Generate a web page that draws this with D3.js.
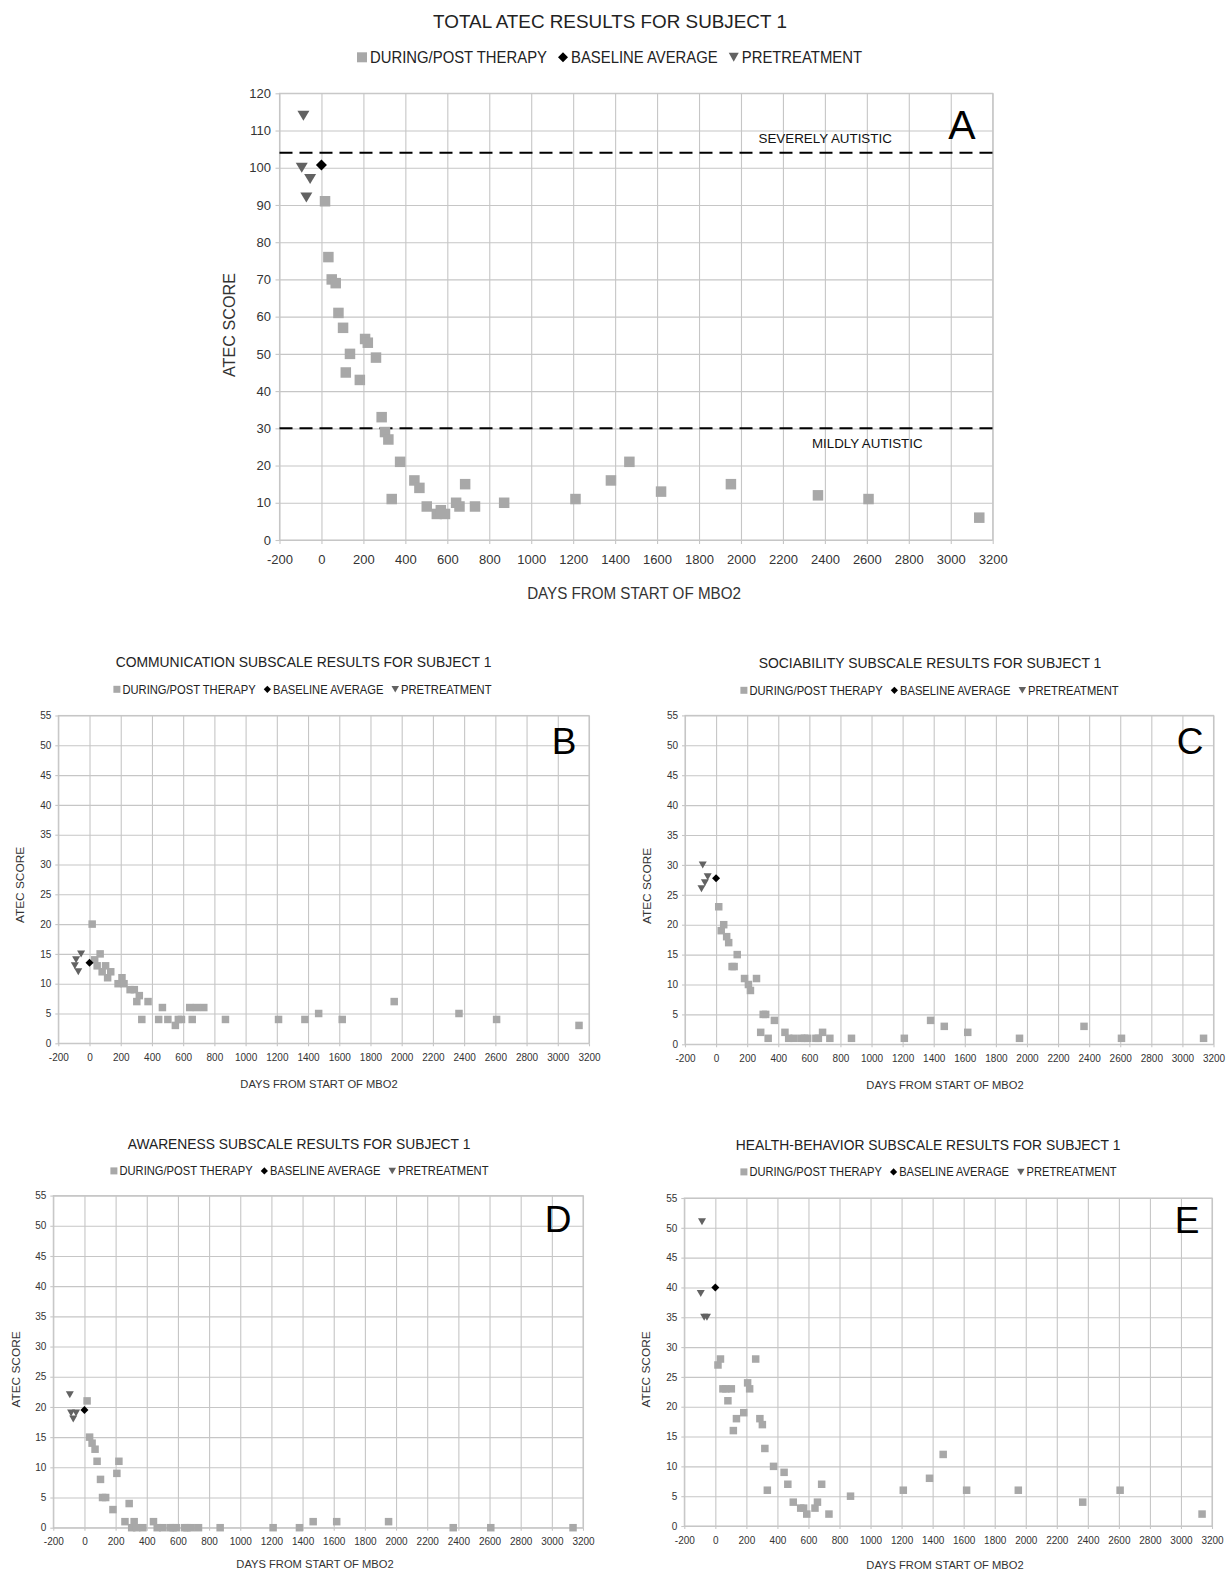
<!DOCTYPE html>
<html>
<head>
<meta charset="utf-8">
<script src="https://cdn.jsdelivr.net/npm/d3@7"></script>
<style>
  body { margin: 0; background: #fff; }
  svg { display: block; }
  text { font-family: "Liberation Sans", Arial, Helvetica, sans-serif; }
</style>
</head>
<body>
<svg id="chart" width="1228" height="1573"></svg>
<script>
// ---------------- DATA ----------------
// Days of the during/post therapy visits (shared by all panels)
const visitDays = [17, 33, 49, 68, 81, 103, 116, 136, 183, 208, 221, 260, 287, 303, 319, 335, 375,
  443, 467, 502, 550, 569, 589, 642, 658, 685, 732, 871, 1211, 1380, 1468, 1619, 1952, 2367, 2608, 3136];
// Pretreatment evaluation days
const pretreatDays = [-94, -86, -72, -54];
const baselineDay = 0;

// Total ATEC
const totalPost = [91, 76, 70, 69, 61, 57, 45, 50, 43, 54, 53, 49, 33, 29, 27, 11, 21,
  16, 14, 9, 7, 8, 7, 10, 9, 15, 9, 10, 11, 16, 21, 13, 15, 12, 11, 6];
const totalPre = [100, 114, 92, 97];
const totalBaseline = 100.75;

// Communication subscale
const commPost = [20, 14, 13, 15, 12, 13, 11, 12, 10, 11, 10, 9, 9, 7, 8, 4, 7,
  4, 6, 4, 3, 4, 4, 6, 4, 6, 6, 4, 4, 4, 5, 4, 7, 5, 4, 3];
const commPre = [13, 14, 12, 15];
const commBaseline = 13.5;

// Sociability subscale
const socPost = [23, 19, 20, 18, 17, 13, 13, 15, 11, 10, 9, 11, 2, 5, 5, 1, 4,
  2, 1, 1, 1, 1, 1, 1, 1, 2, 1, 1, 1, 4, 3, 2, 1, 3, 1, 1];
const socPre = [26, 30, 27, 28];
const socBaseline = 27.75;

// Awareness subscale
const awarePost = [21, 15, 14, 13, 11, 8, 5, 5, 3, 9, 11, 1, 4, 0, 1, 0, 0,
  1, 0, 0, 0, 0, 0, 0, 0, 0, 0, 0, 0, 0, 1, 1, 1, 0, 0, 0];
const awarePre = [22, 19, 18, 19];
const awareBaseline = 19.5;

// Health-behavior subscale
const healthPost = [27, 28, 23, 23, 21, 23, 16, 18, 19, 24, 23, 28, 18, 17, 13, 6, 10,
  9, 7, 4, 3, 3, 2, 3, 4, 7, 2, 5, 6, 8, 12, 6, 6, 4, 6, 2];
const healthPre = [39, 51, 35, 35];
const healthBaseline = 40;

// Thresholds (total panel)
const severeThreshold = 104;
const mildThreshold = 30;

// Tick labels
const xTickValues = [-200, 0, 200, 400, 600, 800, 1000, 1200, 1400, 1600, 1800, 2000, 2200, 2400, 2600, 2800, 3000, 3200];
const yTicksTotal = [0, 10, 20, 30, 40, 50, 60, 70, 80, 90, 100, 110, 120];
const yTicksSub = [0, 5, 10, 15, 20, 25, 30, 35, 40, 45, 50, 55];

const legendLabels = ["DURING/POST THERAPY", "BASELINE AVERAGE", "PRETREATMENT"];
const xAxisTitle = "DAYS FROM START OF MBO2";
const yAxisTitle = "ATEC SCORE";

// ---------------- STYLE / LAYOUT ----------------
const COL_SQ = "#a8a8a8", COL_TRI = "#626262", COL_DIA = "#000000";
const GRID = "#c6c6c6", TICKTXT = "#333", TXT = "#222";

const svg = d3.select("#chart");

function fitText(g, str, o) {
  const t = g.append("text").text(str)
    .attr("font-size", o.size)
    .attr("text-anchor", o.anchor || "middle")
    .attr("fill", o.fill || TXT);
  let sx = 1;
  if (o.width) {
    const w = t.node().getComputedTextLength();
    if (w > 0) sx = o.width / w;
  }
  t.attr("transform", `translate(${o.x},${o.y}) rotate(${o.rotate || 0}) scale(${sx},1)`);
  return t;
}

function triPath(w, h) {
  return `M${-w / 2},${-h / 2}L${w / 2},${-h / 2}L0,${h / 2}Z`;
}
function diaPath(r) {
  return `M0,${-r}L${r},0L0,${r}L${-r},0Z`;
}

const panels = [
  {
    title: "TOTAL ATEC RESULTS FOR SUBJECT 1", post: totalPost, pre: totalPre, base: totalBaseline,
    yMax: 120, yTicks: yTicksTotal,
    box: { l: 279.5, r: 992.7, t: 93.3, b: 540 },
    tickFont: 13, tickLen: 4, xPad: 11, yPad: 4.5,
    titleSpec: { x: 610, y: 27.5, size: 18.5, width: 354 },
    legendSpec: { x0: 357, x1: 862, cy: 57.3, size: 16, sq: 10, dia: 5, triW: 10, triH: 9, gapM: 3, gapI: 11 },
    xLab: { x: 634, y: 598.5, size: 16, width: 214 },
    yLab: { x: 234.5, y: 325, size: 16, width: 104 },
    letter: { s: "A", x: 962, y: 138.5, size: 41 },
    mk: { sq: 10.5, triW: 12, triH: 10, dia: 5.5 },
    thresholds: true
  },
  {
    title: "COMMUNICATION SUBSCALE RESULTS FOR SUBJECT 1", post: commPost, pre: commPre, base: commBaseline,
    yMax: 55, yTicks: yTicksSub,
    box: { l: 58.3, r: 589, t: 715.5, b: 1043.3 },
    tickFont: 10, tickLen: 3, xPad: 7.7, yPad: 4,
    titleSpec: { x: 303.5, y: 667, size: 14, width: 376 },
    legendSpec: { x0: 113.4, x1: 491.6, cy: 689.3, size: 12, sq: 7, dia: 3.6, triW: 7.5, triH: 6.5, gapM: 2, gapI: 8 },
    xLab: { x: 319, y: 1087.5, size: 11.5, width: 157.5 },
    yLab: { x: 24, y: 885, size: 11.5, width: 76.3 },
    letter: { s: "B", x: 564, y: 754, size: 37 },
    mk: { sq: 7.5, triW: 8, triH: 7, dia: 4 }
  },
  {
    title: "SOCIABILITY SUBSCALE RESULTS FOR SUBJECT 1", post: socPost, pre: socPre, base: socBaseline,
    yMax: 55, yTicks: yTicksSub,
    box: { l: 685, r: 1213.5, t: 715.4, b: 1044.3 },
    tickFont: 10, tickLen: 3, xPad: 7.7, yPad: 4,
    titleSpec: { x: 930, y: 668, size: 14, width: 343 },
    legendSpec: { x0: 740.4, x1: 1118.7, cy: 690.3, size: 12, sq: 7, dia: 3.6, triW: 7.5, triH: 6.5, gapM: 2, gapI: 8 },
    xLab: { x: 945, y: 1088.5, size: 11.5, width: 157.5 },
    yLab: { x: 651, y: 886, size: 11.5, width: 76.3 },
    letter: { s: "C", x: 1190, y: 754, size: 37 },
    mk: { sq: 7.5, triW: 8, triH: 7, dia: 4 }
  },
  {
    title: "AWARENESS SUBSCALE RESULTS FOR SUBJECT 1", post: awarePost, pre: awarePre, base: awareBaseline,
    yMax: 55, yTicks: yTicksSub,
    box: { l: 53.3, r: 583, t: 1195.6, b: 1527.7 },
    tickFont: 10, tickLen: 3, xPad: 7.7, yPad: 4,
    titleSpec: { x: 299, y: 1148.5, size: 14, width: 343 },
    legendSpec: { x0: 110.4, x1: 488.6, cy: 1170.9, size: 12, sq: 7, dia: 3.6, triW: 7.5, triH: 6.5, gapM: 2, gapI: 8 },
    xLab: { x: 315, y: 1568, size: 11.5, width: 157.5 },
    yLab: { x: 20, y: 1369.5, size: 11.5, width: 76.3 },
    letter: { s: "D", x: 558, y: 1232, size: 37 },
    mk: { sq: 7.5, triW: 8, triH: 7, dia: 4 }
  },
  {
    title: "HEALTH-BEHAVIOR SUBSCALE RESULTS FOR SUBJECT 1", post: healthPost, pre: healthPre, base: healthBaseline,
    yMax: 55, yTicks: yTicksSub,
    box: { l: 684.3, r: 1212, t: 1198, b: 1526 },
    tickFont: 10, tickLen: 3, xPad: 7.7, yPad: 4,
    titleSpec: { x: 928, y: 1149.5, size: 14, width: 385 },
    legendSpec: { x0: 740.4, x1: 1116.7, cy: 1171.9, size: 12, sq: 7, dia: 3.6, triW: 7.5, triH: 6.5, gapM: 2, gapI: 8 },
    xLab: { x: 945, y: 1569, size: 11.5, width: 157.5 },
    yLab: { x: 650, y: 1369.5, size: 11.5, width: 76.3 },
    letter: { s: "E", x: 1187, y: 1233, size: 37 },
    mk: { sq: 7.5, triW: 8, triH: 7, dia: 4 }
  }
];

function drawLegend(g, L) {
  const lg = g.append("g");
  const texts = legendLabels.map(s => lg.append("text").text(s).attr("font-size", L.size).attr("fill", TXT));
  const widths = texts.map(t => t.node().getComputedTextLength());
  const mW = [L.sq, L.dia * 2, L.triW];
  const fixed = mW.reduce((a, b) => a + b, 0) + 3 * L.gapM + 2 * L.gapI;
  const sx = (L.x1 - L.x0 - fixed) / widths.reduce((a, b) => a + b, 0);
  let cx = L.x0;
  const base = L.cy + L.size * 0.358;
  legendLabels.forEach((s, i) => {
    const mc = cx + mW[i] / 2;
    if (i === 0) {
      lg.append("rect").attr("x", cx).attr("y", L.cy - L.sq / 2).attr("width", L.sq).attr("height", L.sq).attr("fill", COL_SQ);
    } else if (i === 1) {
      lg.append("path").attr("d", diaPath(L.dia)).attr("transform", `translate(${mc},${L.cy})`).attr("fill", COL_DIA);
    } else {
      lg.append("path").attr("d", triPath(L.triW, L.triH)).attr("transform", `translate(${mc},${L.cy})`).attr("fill", COL_TRI);
    }
    cx += mW[i] + L.gapM;
    texts[i].attr("transform", `translate(${cx},${base}) scale(${sx},1)`);
    cx += widths[i] * sx + L.gapI;
  });
}

const tickFmt = d => String(d); // plain hyphen-minus as in the original

panels.forEach(p => {
  const g = svg.append("g");
  const B = p.box;
  const x = d3.scaleLinear().domain([-200, 3200]).range([B.l, B.r]);
  const y = d3.scaleLinear().domain([0, p.yMax]).range([B.b, B.t]);

  // grid
  const gridX = g.append("g").attr("transform", `translate(0,${B.b})`)
    .call(d3.axisBottom(x).tickValues(xTickValues).tickSize(-(B.b - B.t)).tickFormat(""));
  const gridY = g.append("g").attr("transform", `translate(${B.l},0)`)
    .call(d3.axisLeft(y).tickValues(p.yTicks).tickSize(-(B.r - B.l)).tickFormat(""));
  [gridX, gridY].forEach(a => {
    a.select(".domain").remove();
    a.selectAll("line").attr("stroke", GRID).attr("stroke-width", 1.1);
  });
  g.append("rect").attr("x", B.l).attr("y", B.t).attr("width", B.r - B.l).attr("height", B.b - B.t)
    .attr("fill", "none").attr("stroke", GRID).attr("stroke-width", 1.1);

  // axes with labels
  const ax = g.append("g").attr("transform", `translate(0,${B.b})`)
    .call(d3.axisBottom(x).tickValues(xTickValues).tickSize(p.tickLen).tickPadding(p.xPad).tickFormat(tickFmt));
  const ay = g.append("g").attr("transform", `translate(${B.l},0)`)
    .call(d3.axisLeft(y).tickValues(p.yTicks).tickSize(p.tickLen).tickPadding(p.yPad).tickFormat(tickFmt));
  [ax, ay].forEach(a => {
    a.select(".domain").remove();
    a.selectAll("line").attr("stroke", GRID).attr("stroke-width", 1.1);
    a.selectAll("text").attr("font-size", p.tickFont).attr("fill", TICKTXT)
      .attr("font-family", '"Liberation Sans", Arial, sans-serif');
  });

  // thresholds
  if (p.thresholds) {
    [severeThreshold, mildThreshold].forEach(v => {
      g.append("line").attr("x1", B.l).attr("x2", B.r).attr("y1", y(v)).attr("y2", y(v))
        .attr("stroke", "#000").attr("stroke-width", 2).attr("stroke-dasharray", "13,7");
    });
    fitText(g, "SEVERELY AUTISTIC", { x: 758.5, y: 142.5, size: 13.5, anchor: "start", width: 133.4, fill: "#111" });
    fitText(g, "MILDLY AUTISTIC", { x: 812, y: 448, size: 13.5, anchor: "start", width: 110.7, fill: "#111" });
  }

  // during/post therapy squares
  const s = p.mk.sq;
  g.append("g").selectAll("rect").data(visitDays.map((d, i) => ({ d, v: p.post[i] })))
    .join("rect")
    .attr("x", o => x(o.d) - s / 2).attr("y", o => y(o.v) - s / 2)
    .attr("width", s).attr("height", s).attr("fill", COL_SQ);
  // baseline average diamond
  g.append("path").attr("d", diaPath(p.mk.dia))
    .attr("transform", `translate(${x(baselineDay)},${y(p.base)})`).attr("fill", COL_DIA);
  // pretreatment triangles
  g.append("g").selectAll("path").data(pretreatDays.map((d, i) => ({ d, v: p.pre[i] })))
    .join("path")
    .attr("d", triPath(p.mk.triW, p.mk.triH))
    .attr("transform", o => `translate(${x(o.d)},${y(o.v)})`)
    .attr("fill", COL_TRI);

  // titles & labels
  fitText(g, p.title, { ...p.titleSpec, fill: TXT });
  drawLegend(g, p.legendSpec);
  fitText(g, xAxisTitle, { ...p.xLab, fill: "#333" });
  fitText(g, yAxisTitle, { ...p.yLab, rotate: -90, fill: "#333" });
  g.append("text").text(p.letter.s).attr("x", p.letter.x).attr("y", p.letter.y)
    .attr("text-anchor", "middle").attr("font-size", p.letter.size).attr("fill", "#000");
});
</script>
</body>
</html>
